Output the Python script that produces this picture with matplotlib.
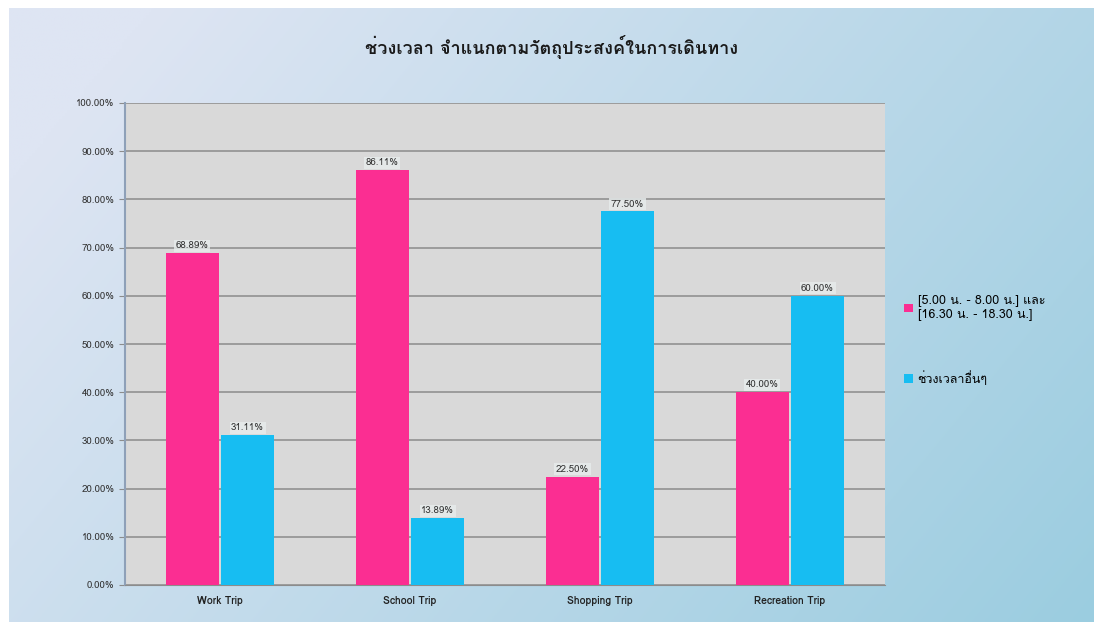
import numpy as np
import matplotlib
matplotlib.use("Agg")
import matplotlib.pyplot as plt
from matplotlib import font_manager
from matplotlib.ft2font import FT2Font

categories = ["Work Trip", "School Trip", "Shopping Trip", "Recreation Trip"]
peak_hours = [68.89, 86.11, 22.50, 40.00]
other_hours = [31.11, 13.89, 77.50, 60.00]
series_names = ["[5.00 น. - 8.00 น.] และ\n[16.30 น. - 18.30 น.]", "ช่วงเวลาอื่นๆ"]
title = "ช่วงเวลา จำแนกตามวัตถุประสงค์ในการเดินทาง"
yticks = np.arange(0, 101, 10)


def thai_font():
    for f in font_manager.fontManager.ttflist:
        try:
            ft = FT2Font(f.fname)
            if ft.get_char_index(0x0E0A) and ft.get_char_index(0x0E48):
                return f.name
        except Exception:
            pass
    return None


tf = thai_font()
families = ([tf] if tf else []) + ["DejaVu Sans"]
plt.rcParams["font.family"] = families

fig = plt.figure(figsize=(11.02, 6.3), dpi=100)
fig.patch.set_facecolor("white")

# gradient backdrop
bg = fig.add_axes([0.008, 0.012, 0.984, 0.976])
h, w = 200, 400
xx, yy = np.meshgrid(np.linspace(0, 1, w), np.linspace(0, 1, h))
c0 = np.array([222, 229, 243]) / 255
c1 = np.array([155, 205, 224]) / 255
t = np.clip(0.75 * xx + 0.35 * yy - 0.1, 0, 1)[..., None]
img = c0 * (1 - t) + c1 * t
bg.imshow(img, aspect="auto", extent=[0, 1, 0, 1])
bg.set_axis_off()

ax = fig.add_axes([125 / 1102, 1 - 585 / 630, 760 / 1102, 482 / 630])
ax.set_facecolor("#d9d9d9")
x = np.arange(len(categories))
bw = 0.28
pink = "#fb2e92"
blue = "#17bdf2"
b1 = ax.bar(x - bw / 2 - 0.005, peak_hours, bw, color=pink, zorder=3, label=series_names[0])
b2 = ax.bar(x + bw / 2 + 0.005, other_hours, bw, color=blue, zorder=3, label=series_names[1])

for bars, vals in ((b1, peak_hours), (b2, other_hours)):
    for r, v in zip(bars, vals):
        ax.text(r.get_x() + r.get_width() / 2, v + 0.6, f"{v:.2f}%", ha="center", va="bottom",
                fontsize=7, color="#333333", zorder=4,
                bbox=dict(boxstyle="square,pad=0.15", fc="#e8ecec", ec="none", alpha=0.8))

ax.set_xlim(-0.5, 3.5)
ax.set_ylim(0, 100)
ax.set_yticks(yticks)
ax.set_yticklabels([f"{v:.2f}%" for v in yticks], fontsize=7, color="#333333")
ax.set_xticks(x)
ax.set_xticklabels(categories, fontsize=7.5, fontweight="bold", color="#222222")
ax.yaxis.grid(True, color="#8c8c8c", linewidth=1.1, zorder=1)
ax.tick_params(axis="y", length=4, color="#8c8c8c")
ax.tick_params(axis="x", length=0, pad=8)
for s in ("top", "right"):
    ax.spines[s].set_visible(False)
ax.spines["left"].set_color("#8ea0b8")
ax.spines["left"].set_linewidth(1.5)
ax.spines["bottom"].set_color("#8c8c8c")

fig.text(552 / 1102, 1 - 47 / 630, title, ha="center", va="center", fontsize=13,
         fontweight="bold", color="#1a1a1a")

leg = ax.legend(loc="upper left", bbox_to_anchor=(1.01, 0.625), frameon=False, fontsize=9,
                handlelength=0.7, handleheight=0.7, labelspacing=4.0, handletextpad=0.4)

fig.savefig("out.png", dpi=100)
